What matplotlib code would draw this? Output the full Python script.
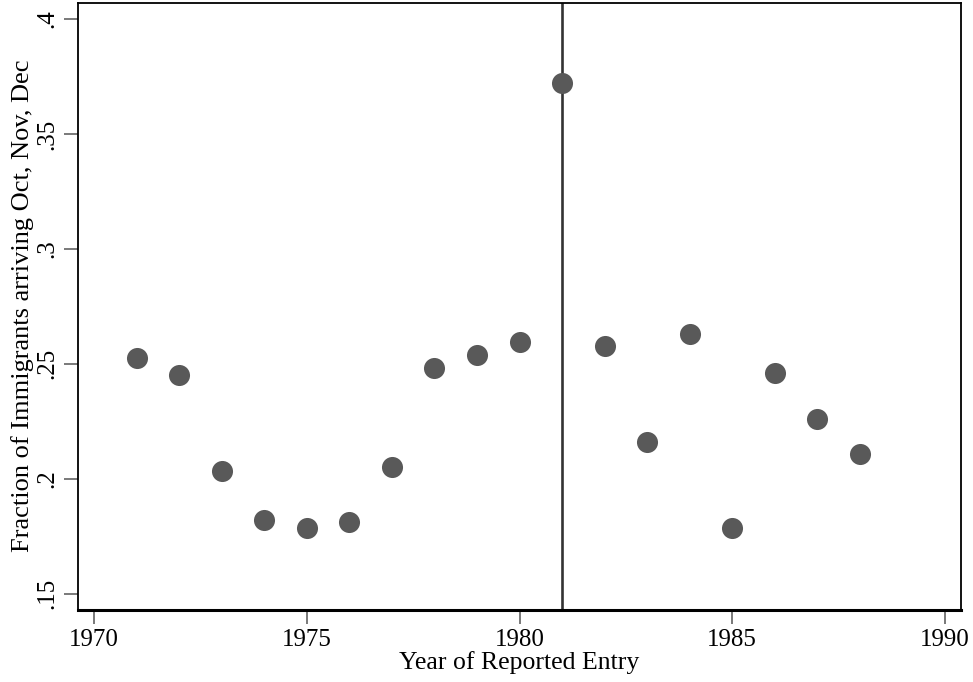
import matplotlib
matplotlib.use('Agg')
import matplotlib.pyplot as plt

# datos
anios = [1971, 1972, 1973, 1974, 1975, 1976, 1977, 1978, 1979,
         1980, 1981, 1982, 1983, 1984, 1985, 1986, 1987, 1988]
fraccion = [0.2524, 0.2450, 0.2034, 0.1821, 0.1786, 0.1812, 0.2051, 0.2481, 0.2537,
            0.2594, 0.3722, 0.2576, 0.2160, 0.2628, 0.1786, 0.2459, 0.2260, 0.2108]
x_ticks = [1970, 1975, 1980, 1985, 1990]
y_ticks = [0.15, 0.2, 0.25, 0.3, 0.35, 0.4]
y_labels = [".15", ".2", ".25", ".3", ".35", ".4"]
anio_corte = 1981

plt.rcParams['font.family'] = ['Liberation Serif', 'DejaVu Serif']

fig = plt.figure(figsize=(9.73, 6.82), dpi=100)
ax = fig.add_axes([78/973, 1 - 610/682, (961-78)/973, (610-2.5)/682])

ax.scatter(anios, fraccion, s=230, color='#595959', zorder=3, linewidths=0)
ax.axvline(anio_corte, color='#333333', linewidth=1.9, zorder=2)

ax.set_xlim(1969.62, 1990.38)
ax.set_ylim(0.1429, 0.4072)
ax.set_xticks(x_ticks)
ax.set_yticks(y_ticks)
ax.set_yticklabels(y_labels, rotation=90, va='center')
ax.tick_params(axis='both', labelsize=18, length=10, width=1.1, color='#555555', pad=4)

ax.set_xlabel("Year of Reported Entry", fontsize=18.5, labelpad=0)
ax.set_ylabel("Fraction of Immigrants arriving Oct, Nov, Dec", fontsize=19, labelpad=2)

for s in ax.spines.values():
    s.set_linewidth(1.3)
ax.spines['bottom'].set_linewidth(2.2)

fig.savefig("out.png", dpi=100)
